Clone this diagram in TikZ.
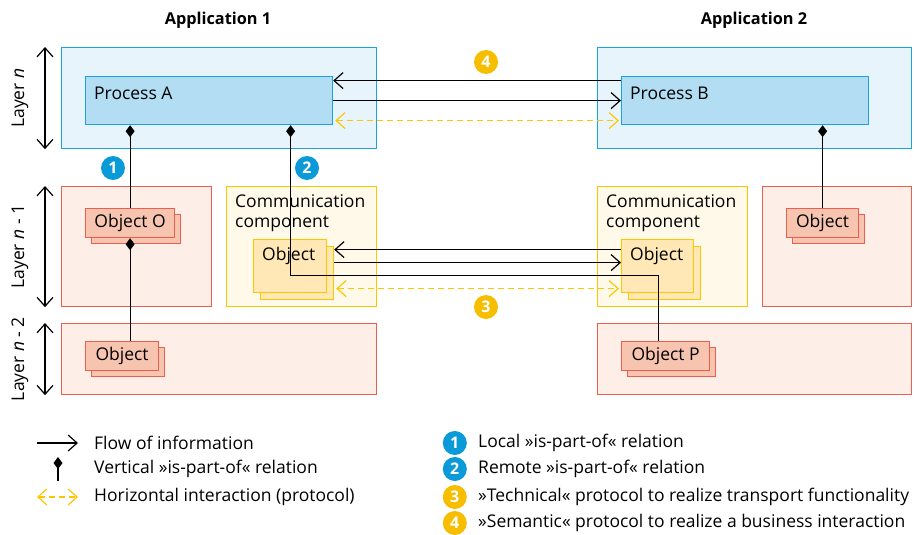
\documentclass[tikz,border=0pt]{standalone}
\usepackage{fontspec}
\setmainfont{Open Sans}
\usetikzlibrary{positioning, arrows.meta, shadows}
\definecolor{blueline}{HTML}{1BA3E0}
\definecolor{bluelight}{HTML}{E8F4FB}
\definecolor{blueproc}{HTML}{B2DDF3}
\definecolor{redline}{HTML}{EC5F4E}
\definecolor{redlight}{HTML}{FDEEE8}
\definecolor{redobj}{HTML}{F7C4B0}
\definecolor{yelline}{HTML}{FFC600}
\definecolor{yellight}{HTML}{FFF9EA}
\definecolor{yelobj}{HTML}{FFE8B5}
\definecolor{badgeblue}{HTML}{0A9AD7}
\definecolor{badgeyel}{HTML}{F7BE00}

\begin{document}
\begin{tikzpicture}[x=1pt,y=-1pt,
  font=\fontsize{17.5}{20.5}\selectfont,
  box/.style={line width=1.2pt,anchor=north west,inner sep=0pt},
  bluebox/.style={box,draw=blueline,fill=bluelight},
  procbox/.style={box,draw=blueline,fill=blueproc},
  redbox/.style={box,draw=redline,fill=redlight},
  yelbox/.style={box,draw=yelline,fill=yellight},
  objbox/.style={box,draw=redline,fill=redobj,copy shadow={shadow xshift=6pt,shadow yshift=-6pt}},
  cobjbox/.style={box,draw=yelline,fill=yelobj,copy shadow={shadow xshift=7pt,shadow yshift=-7pt}},
  inlabel/.style={anchor=north west,inner sep=0pt,xshift=9pt,yshift=-9pt},
  flow/.style={-{Straight Barb[length=9pt,width=16pt]},line width=1.2pt},
  proto/.style={{Straight Barb[length=9pt,width=16pt]}-{Straight Barb[length=9pt,width=16pt]},draw=yelline,line width=1.2pt,dash pattern=on 6pt off 4pt},
  partof/.style={{Diamond[length=12pt,width=9pt]}-,line width=1.2pt},
  layerarrow/.style={{Straight Barb[length=9pt,width=16pt]}-{Straight Barb[length=9pt,width=16pt]},line width=1.2pt},
  badge/.style={circle,inner sep=0pt,minimum size=24pt,text=white,font=\fontsize{16}{18}\selectfont\bfseries},
  legend/.style={anchor=west,inner sep=0pt}]
\useasboundingbox (0,0) rectangle (916,535);

% application 1
\node[font=\fontsize{16.3}{19}\selectfont\bfseries] (titleA) at (218,20) {Application 1};
\node[bluebox,minimum width=315pt,minimum height=101pt] (appAn) at (61,47) {};
\node[procbox,minimum width=247pt,minimum height=48pt,label={[inlabel,yshift=-2pt]north west:Process A}] (procA) at (85,76) {};
\node[redbox,minimum width=150pt,minimum height=120pt] (appAm) at (61,186) {};
\node[yelbox,minimum width=150pt,minimum height=120pt,label={[inlabel,align=left,yshift=1pt]north west:Communication\\component}] (commA) at (226,186) {};
\node[redbox,minimum width=315pt,minimum height=71pt] (appAl) at (61,323) {};
\node[objbox,minimum width=89pt,minimum height=29pt] (objO) at (85,208) {Object O};
\node[objbox,minimum width=73pt,minimum height=29pt] (objLA) at (85,341) {Object};
\node[cobjbox,minimum width=73pt,minimum height=53pt,label={[inlabel,yshift=1pt]north west:Object}] (cobjA) at (253,239) {};

% application 2
\node[font=\fontsize{16.3}{19}\selectfont\bfseries] (titleB) at (754,20) {Application 2};
\node[bluebox,minimum width=314pt,minimum height=101pt] (appBn) at (597,47) {};
\node[procbox,minimum width=247pt,minimum height=48pt,label={[inlabel,yshift=-2pt]north west:Process B}] (procB) at (621,76) {};
\node[yelbox,minimum width=150pt,minimum height=120pt,label={[inlabel,align=left,yshift=1pt]north west:Communication\\component}] (commB) at (597,186) {};
\node[redbox,minimum width=149pt,minimum height=120pt] (appBm) at (762,186) {};
\node[redbox,minimum width=314pt,minimum height=71pt] (appBl) at (597,323) {};
\node[cobjbox,minimum width=72pt,minimum height=53pt,label={[inlabel,yshift=1pt]north west:Object}] (cobjB) at (621,239) {};
\node[objbox,minimum width=72pt,minimum height=29pt] (objR) at (786,208) {Object};
\node[objbox,minimum width=88pt,minimum height=29pt] (objP) at (621,341) {Object P};

% layers
\draw[layerarrow] ([xshift=-16pt]appAn.north west) -- ([xshift=-16pt]appAn.south west);
\draw[layerarrow] ([xshift=-16pt]appAm.north west) -- ([xshift=-16pt]appAm.south west);
\draw[layerarrow] ([xshift=-16pt]appAl.north west) -- ([xshift=-16pt]appAl.south west);
\node[rotate=90] (lyrN) at ([xshift=-41pt]appAn.west) {Layer \textit{n}};
\node[rotate=90] (lyrM) at ([xshift=-41pt]appAm.west) {Layer \textit{n} - 1};
\node[rotate=90] (lyrL) at ([xshift=-41pt]appAl.west) {Layer \textit{n} - 2};

% relations
\draw[partof] (objO.north |- procA.south) -- (objO.north);
\draw[partof] (objO.south) -- (objO.south |- objLA.north);
\draw[partof] (objR.north |- procB.south) -- (objR.north);
\draw[partof] ([xshift=81.5pt]procA.south) |- ([yshift=-9.5pt]cobjA.east) -| ([xshift=-7pt]objP.north);

% flows
\draw[flow] ([yshift=20pt]procB.west) -- ([yshift=20pt]procA.east);
\draw[flow] (procA.east) -- (procB.west);
\draw[proto] ([xshift=2pt,yshift=-20pt]procA.east) -- ([xshift=-2pt,yshift=-20pt]procB.west);
\draw[flow] ([yshift=16.5pt]cobjB.west) -- ([xshift=7pt,yshift=16.5pt]cobjA.east);
\draw[flow] ([xshift=7pt,yshift=3.5pt]cobjA.east) -- ([yshift=3.5pt]cobjB.west);
\draw[proto] ([xshift=9pt,yshift=-22.5pt]cobjA.east) -- ([xshift=-2pt,yshift=-22.5pt]cobjB.west);

\node[badge,fill=badgeblue] (c1) at (113,168) {1};
\node[badge,fill=badgeblue] (c2) at (307,168) {2};
\node[badge,fill=badgeyel] (c3) at (486,307) {3};
\node[badge,fill=badgeyel] (c4) at (486,62) {4};

% legend
\node[legend] (lgFlow) at (94,443) {Flow of information};
\node[legend] (lgVert) at (94,469) {Vertical »is-part-of« relation};
\node[legend] (lgHor) at (94,497) {Horizontal interaction (protocol)};
\draw[flow] ([xshift=-57pt]lgFlow.west) -- ([xshift=-16pt]lgFlow.west);
\draw[partof] ([xshift=-36pt,yshift=12pt]lgVert.west) -- ([xshift=-36pt,yshift=-12pt]lgVert.west);
\draw[proto] ([xshift=-57pt]lgHor.west) -- ([xshift=-16pt]lgHor.west);

\node[legend] (lgLoc) at (478,443) {Local »is-part-of« relation};
\node[legend] (lgRem) at (478,469) {Remote »is-part-of« relation};
\node[legend] (lgTec) at (478,497) {»Technical« protocol to realize transport functionality};
\node[legend] (lgSem) at (478,523) {»Semantic« protocol to realize a business interaction};
\node[badge,fill=badgeblue,left=11pt of lgLoc] (l1) {1};
\node[badge,fill=badgeblue,left=11pt of lgRem] (l2) {2};
\node[badge,fill=badgeyel,left=11pt of lgTec] (l3) {3};
\node[badge,fill=badgeyel,left=11pt of lgSem] (l4) {4};
\end{tikzpicture}
\end{document}
